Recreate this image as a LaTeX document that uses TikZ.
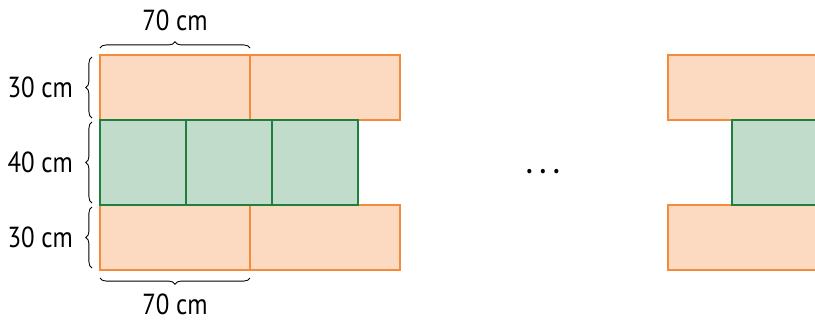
\documentclass[tikz,border=0pt]{standalone}
\usepackage{fontspec}
\setmainfont{PT Sans}[FakeStretch=0.86]
\usetikzlibrary{positioning, decorations.pathreplacing}
\definecolor{brickfill}{HTML}{FCDAC1}
\definecolor{brickline}{HTML}{F58A3A}
\definecolor{blockfill}{HTML}{C1DCCA}
\definecolor{blockline}{HTML}{1F7F3F}

\begin{document}
\begin{tikzpicture}[x=0.02cm, y=-0.02cm,
    brick/.style={rectangle, draw=brickline, fill=brickfill, line width=0.7pt, minimum width=3cm, minimum height=1.3cm, inner sep=0pt, outer sep=0pt},
    block/.style={rectangle, draw=blockline, fill=blockfill, line width=0.7pt, minimum width=1.72cm, minimum height=1.7cm, inner sep=0pt, outer sep=0pt},
    brace/.style={decorate, decoration={brace, amplitude=3.5pt}, line width=0.5pt},
    size/.style={font=\fontsize{16.5}{18}\selectfont, inner sep=1pt},
    node distance=0cm]
        \clip (0,0) rectangle (815,322);
        % left wall
        \node[brick, anchor=north west] (top1) at (100,55) {};
        \node[brick] (top2) [right = of top1] {};
        \node[brick, anchor=north west] (bot1) at (100,205) {};
        \node[brick] (bot2) [right = of bot1] {};
        \node[block, anchor=north west] (mid1) at (100,120) {};
        \node[block] (mid2) [right = of mid1] {};
        \node[block] (mid3) [right = of mid2] {};

        % right wall (cut off)
        \node[brick, anchor=north west] (rtop) at (668,55) {};
        \node[brick, anchor=north west] (rbot) at (668,205) {};
        \node[block, anchor=north west] (rmid) at (732,120) {};

        \node[size, anchor=base] (dots) at (543,173) {\textbf{.\hspace{4.2pt}.\hspace{4.2pt}.}};

        % dimensions
        \coordinate (ta) at (100,48);
        \coordinate (tb) at (250,48);
        \coordinate (ba) at (250,278);
        \coordinate (bb) at (100,278);
        \draw[brace] (ta) -- (tb);
        \draw[brace] (ba) -- (bb);
        \draw[brace] (92,118) -- (92,57);
        \draw[brace] (92,203) -- (92,122);
        \draw[brace] (92,268) -- (92,207);

        \node[size] (toplen) at (175,20) {70 cm};
        \node[size] (botlen) at (175,304) {70 cm};
        \node[size, anchor=east] (toph) at (75,87) {30 cm};
        \node[size, anchor=east] (midh) at (75,162) {40 cm};
        \node[size, anchor=east] (both) at (75,237) {30 cm};
    \end{tikzpicture}
\end{document}
